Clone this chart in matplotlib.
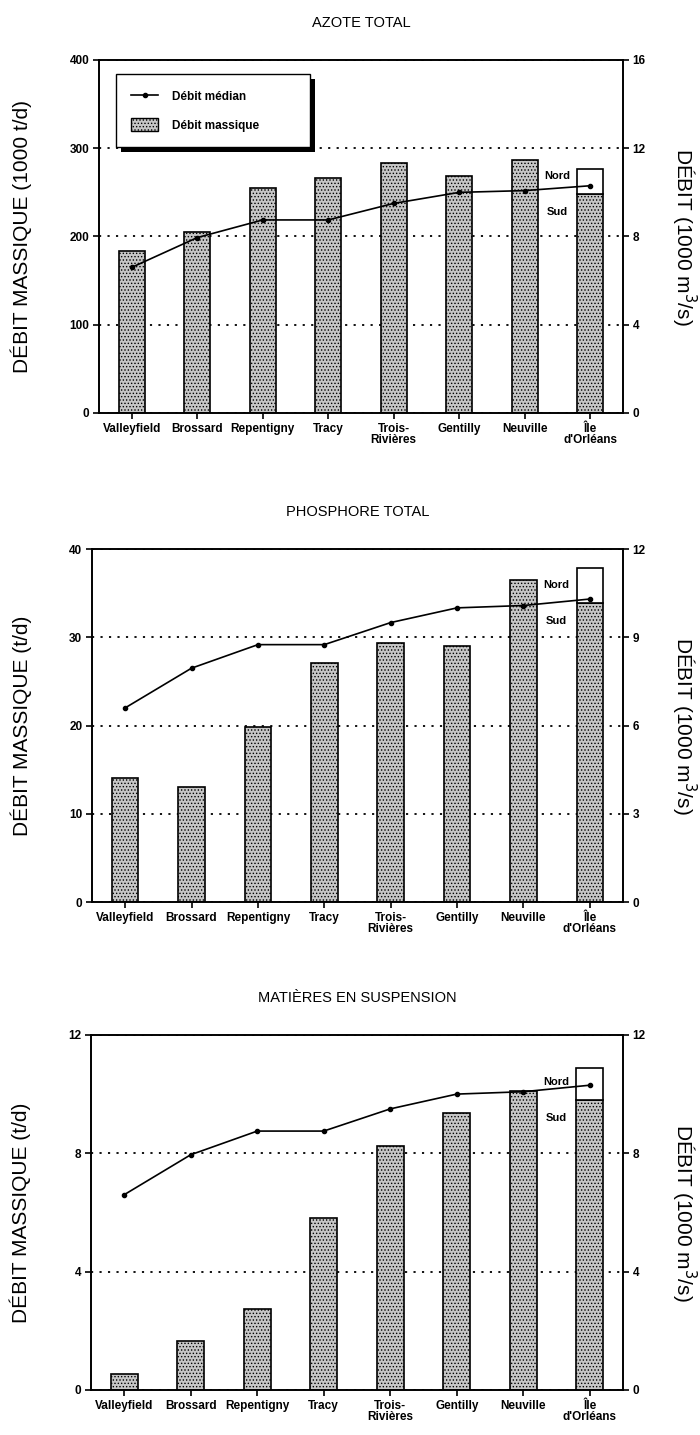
import matplotlib.pyplot as plt
from matplotlib.lines import Line2D
from matplotlib.patches import Patch, Rectangle
from matplotlib.transforms import IdentityTransform

plt.rcParams['font.family'] = ['Liberation Sans', 'DejaVu Sans']
plt.rcParams['hatch.linewidth'] = 0.6

sites = ["Valleyfield", "Brossard", "Repentigny", "Tracy", "Trois-\nRivières",
         "Gentilly", "Neuville", "Île\nd'Orléans"]

# debit median (1000 m3/s), same for all three panels
flow = [6.6, 7.95, 8.75, 8.75, 9.5, 10.0, 10.08, 10.3]

# debit massique; last value = Sud part of Ile d'Orleans, nord added on top
azote = [183, 205, 255, 266, 283, 269, 287, 248]
azote_nord = 29
phosphore = [14.0, 13.0, 19.8, 27.1, 29.4, 29.0, 36.5, 33.9]
phosphore_nord = 4.0
mes = [0.55, 1.65, 2.75, 5.8, 8.25, 9.35, 10.1, 9.8]
mes_nord = 1.08

panels = [
    ("AZOTE TOTAL", azote, azote_nord, "DÉBIT MASSIQUE (1000 t/d)",
     [0, 100, 200, 300, 400], [0, 4, 8, 12, 16]),
    ("PHOSPHORE TOTAL", phosphore, phosphore_nord, "DÉBIT MASSIQUE (t/d)",
     [0, 10, 20, 30, 40], [0, 3, 6, 9, 12]),
    ("MATIÈRES EN SUSPENSION", mes, mes_nord, "DÉBIT MASSIQUE (t/d)",
     [0, 4, 8, 12], [0, 4, 8, 12]),
]

rects = [
    [0.1414, 0.7122, 0.7486, 0.246],
    [0.1314, 0.3714, 0.7586, 0.246],
    [0.1300, 0.0314, 0.7600, 0.2474],
]

gray = '#c6c6c6'
fig = plt.figure(figsize=(7, 14.35), dpi=100)
bar_kw = dict(width=0.4, facecolor=gray, edgecolor='black', hatch='.....',
              linewidth=1.2, zorder=2)

leg = None
for i, (title, vals, nord, ylab, lticks, rticks) in enumerate(panels):
    ax = fig.add_axes(rects[i])
    x = list(range(len(sites)))
    ax.bar(x, vals, **bar_kw)
    ax.bar([7], [nord], bottom=[vals[-1]], width=0.4, facecolor='white',
           edgecolor='black', linewidth=1.2, zorder=2)

    ymax = lticks[-1]
    ax.set_xlim(-0.5, 7.5)
    ax.set_ylim(0, ymax)
    ax.set_yticks(lticks)
    ax.set_xticks(x)
    ax.set_xticklabels(sites, fontsize=8.5, fontweight='bold', linespacing=0.95)
    ax.tick_params(axis='both', direction='out', length=4, width=1.2,
                   labelsize=8.5, pad=3)
    for lab in ax.get_yticklabels():
        lab.set_fontweight('bold')
    ax.set_axisbelow(True)
    ax.grid(axis='y', color='black', linestyle=(0, (1.2, 3.5)), linewidth=1.3)
    for s in ax.spines.values():
        s.set_linewidth(1.2)

    ax.set_title(title, fontsize=10.5, pad=24)
    ax.set_ylabel(ylab, fontsize=15)
    ax.yaxis.set_label_coords(-0.128 if i == 0 else -0.113, 0.5)

    ax.text(6.5, vals[-1] + 0.052 * ymax, "Nord", fontsize=8,
            fontweight='bold', ha='center', va='center')
    ax.text(6.5, vals[-1] - 0.05 * ymax, "Sud", fontsize=8,
            fontweight='bold', ha='center', va='center')

    ax2 = ax.twinx()
    ax2.plot(x, flow, color='black', linewidth=1.2, marker='o', markersize=3,
             zorder=3)
    ax2.set_ylim(0, rticks[-1])
    ax2.set_yticks(rticks)
    ax2.tick_params(axis='y', direction='out', length=4, width=1.2,
                    labelsize=8.5, pad=3)
    for lab in ax2.get_yticklabels():
        lab.set_fontweight('bold')
    ax2.set_ylabel("DÉBIT (1000 m$^3$/s)", fontsize=15, rotation=270)
    ax2.yaxis.set_label_coords(1.143 if i == 0 else 1.141, 0.5)
    for s in ax2.spines.values():
        s.set_linewidth(1.2)

    if i == 0:
        handles = [
            Line2D([0], [0], color='black', linewidth=1.2, marker='o',
                   markersize=3),
            Patch(facecolor=gray, edgecolor='black', hatch='.....'),
        ]
        leg = ax2.legend(handles, ["Débit médian", "Débit massique"],
                         loc='upper left', bbox_to_anchor=(0.032, 0.76, 0.37, 0.2),
                         mode='expand', borderaxespad=0, fancybox=False,
                         framealpha=1, edgecolor='black',
                         prop={'size': 8.5, 'weight': 'bold'},
                         handlelength=2.3, handleheight=1.3, handletextpad=1.2,
                         labelspacing=1.3, borderpad=1.3)
        leg.get_frame().set_linewidth(1.0)
        leg_ax = ax2

# black drop shadow behind the legend box
fig.canvas.draw()
bb = leg.get_window_extent(fig.canvas.get_renderer())
shadow = Rectangle((bb.x0 + 5, bb.y0 - 5), bb.width, bb.height,
                   transform=IdentityTransform(), facecolor='black',
                   edgecolor='none', zorder=4.9, clip_on=False)
leg_ax.add_artist(shadow)

fig.savefig("out.png", dpi=100)
